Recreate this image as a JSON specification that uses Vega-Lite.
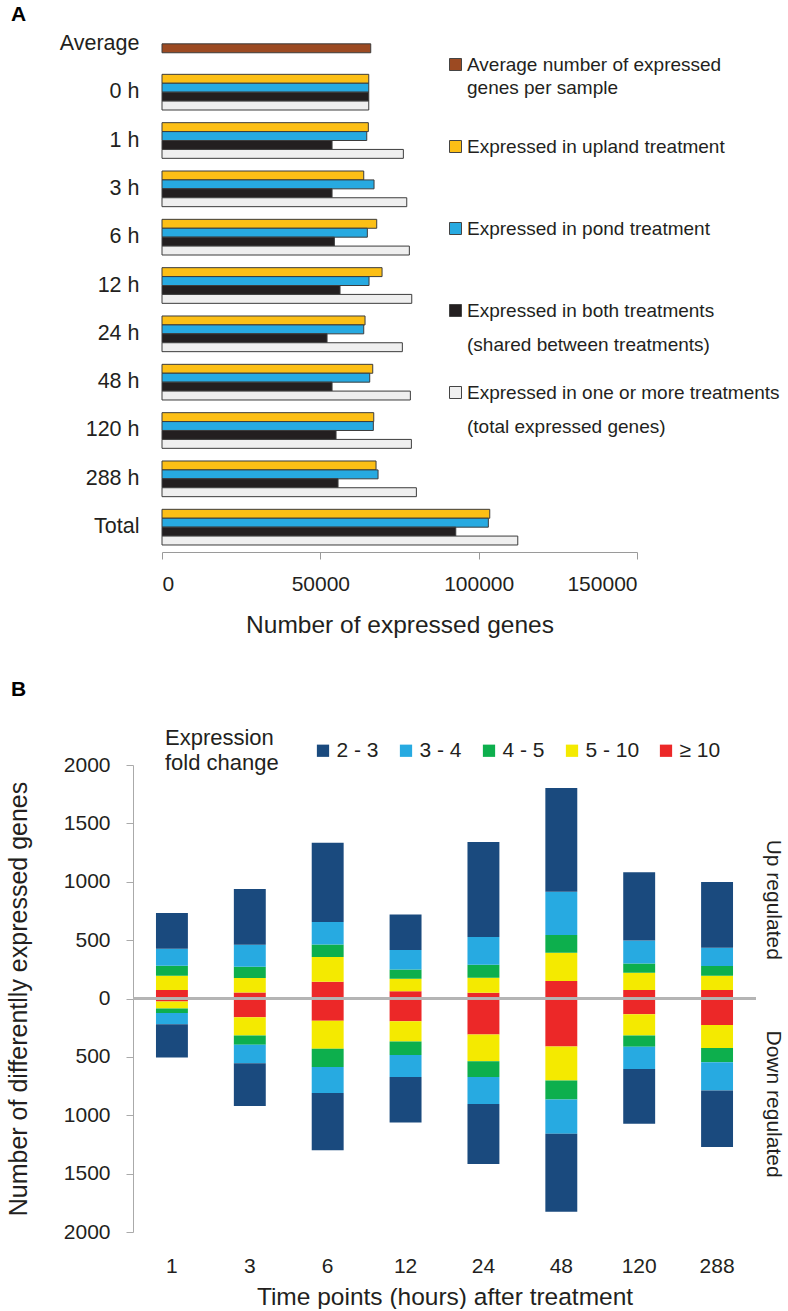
{
  "$schema": "https://vega.github.io/schema/vega-lite/v6.json",
  "padding": {"left": 6, "top": 4, "right": 0, "bottom": 0},
  "spacing": 42,
  "config": {
    "view": {"stroke": null},
    "font": "Liberation Sans",
    "axis": {"labelColor": "#231F20", "titleColor": "#231F20", "titleFontWeight": "normal", "labelFont": "Liberation Sans", "titleFont": "Liberation Sans"},
    "legend": {"labelColor": "#231F20", "titleColor": "#231F20", "labelFont": "Liberation Sans", "titleFont": "Liberation Sans"},
    "title": {"color": "#000000", "font": "Liberation Sans"}
  },
  "resolve": {"scale": {"color": "independent", "x": "independent", "y": "independent"}, "legend": {"color": "independent"}},
  "datasets": {
    "expressed": [
      {"row": "Average", "series": "avg", "value": 65920},
      {"row": "0 h", "series": "upland", "value": 65290},
      {"row": "0 h", "series": "pond", "value": 65290},
      {"row": "0 h", "series": "both", "value": 65290},
      {"row": "0 h", "series": "total", "value": 65290},
      {"row": "1 h", "series": "upland", "value": 65160},
      {"row": "1 h", "series": "pond", "value": 64660},
      {"row": "1 h", "series": "both", "value": 53700},
      {"row": "1 h", "series": "total", "value": 76220},
      {"row": "3 h", "series": "upland", "value": 63710},
      {"row": "3 h", "series": "pond", "value": 66960},
      {"row": "3 h", "series": "both", "value": 53700},
      {"row": "3 h", "series": "total", "value": 77290},
      {"row": "6 h", "series": "upland", "value": 67810},
      {"row": "6 h", "series": "pond", "value": 64850},
      {"row": "6 h", "series": "both", "value": 54430},
      {"row": "6 h", "series": "total", "value": 78110},
      {"row": "12 h", "series": "upland", "value": 69490},
      {"row": "12 h", "series": "pond", "value": 65380},
      {"row": "12 h", "series": "both", "value": 56220},
      {"row": "12 h", "series": "total", "value": 78870},
      {"row": "24 h", "series": "upland", "value": 64120},
      {"row": "24 h", "series": "pond", "value": 63710},
      {"row": "24 h", "series": "both", "value": 52120},
      {"row": "24 h", "series": "total", "value": 75900},
      {"row": "48 h", "series": "upland", "value": 66550},
      {"row": "48 h", "series": "pond", "value": 65600},
      {"row": "48 h", "series": "both", "value": 53700},
      {"row": "48 h", "series": "total", "value": 78430},
      {"row": "120 h", "series": "upland", "value": 66870},
      {"row": "120 h", "series": "pond", "value": 66740},
      {"row": "120 h", "series": "both", "value": 54960},
      {"row": "120 h", "series": "total", "value": 78750},
      {"row": "288 h", "series": "upland", "value": 67590},
      {"row": "288 h", "series": "pond", "value": 68230},
      {"row": "288 h", "series": "both", "value": 55590},
      {"row": "288 h", "series": "total", "value": 80330},
      {"row": "Total", "series": "upland", "value": 103500},
      {"row": "Total", "series": "pond", "value": 103060},
      {"row": "Total", "series": "both", "value": 92770},
      {"row": "Total", "series": "total", "value": 112350}
    ],
    "deg": [
      {"time": "1", "fold": "≥ 10", "value": 72}, {"time": "1", "fold": "5 - 10", "value": 123}, {"time": "1", "fold": "4 - 5", "value": 85}, {"time": "1", "fold": "3 - 4", "value": 146}, {"time": "1", "fold": "2 - 3", "value": 306},
      {"time": "1", "fold": "≥ 10", "value": -26}, {"time": "1", "fold": "5 - 10", "value": -60}, {"time": "1", "fold": "4 - 5", "value": -39}, {"time": "1", "fold": "3 - 4", "value": -95}, {"time": "1", "fold": "2 - 3", "value": -286},
      {"time": "3", "fold": "≥ 10", "value": 51}, {"time": "3", "fold": "5 - 10", "value": 124}, {"time": "3", "fold": "4 - 5", "value": 97}, {"time": "3", "fold": "3 - 4", "value": 189}, {"time": "3", "fold": "2 - 3", "value": 477},
      {"time": "3", "fold": "≥ 10", "value": -160}, {"time": "3", "fold": "5 - 10", "value": -157}, {"time": "3", "fold": "4 - 5", "value": -80}, {"time": "3", "fold": "3 - 4", "value": -157}, {"time": "3", "fold": "2 - 3", "value": -366},
      {"time": "6", "fold": "≥ 10", "value": 143}, {"time": "6", "fold": "5 - 10", "value": 212}, {"time": "6", "fold": "4 - 5", "value": 108}, {"time": "6", "fold": "3 - 4", "value": 192}, {"time": "6", "fold": "2 - 3", "value": 678},
      {"time": "6", "fold": "≥ 10", "value": -191}, {"time": "6", "fold": "5 - 10", "value": -240}, {"time": "6", "fold": "4 - 5", "value": -155}, {"time": "6", "fold": "3 - 4", "value": -223}, {"time": "6", "fold": "2 - 3", "value": -491},
      {"time": "12", "fold": "≥ 10", "value": 63}, {"time": "12", "fold": "5 - 10", "value": 106}, {"time": "12", "fold": "4 - 5", "value": 80}, {"time": "12", "fold": "3 - 4", "value": 166}, {"time": "12", "fold": "2 - 3", "value": 305},
      {"time": "12", "fold": "≥ 10", "value": -194}, {"time": "12", "fold": "5 - 10", "value": -175}, {"time": "12", "fold": "4 - 5", "value": -114}, {"time": "12", "fold": "3 - 4", "value": -189}, {"time": "12", "fold": "2 - 3", "value": -391},
      {"time": "24", "fold": "≥ 10", "value": 49}, {"time": "24", "fold": "5 - 10", "value": 129}, {"time": "24", "fold": "4 - 5", "value": 111}, {"time": "24", "fold": "3 - 4", "value": 238}, {"time": "24", "fold": "2 - 3", "value": 814},
      {"time": "24", "fold": "≥ 10", "value": -309}, {"time": "24", "fold": "5 - 10", "value": -228}, {"time": "24", "fold": "4 - 5", "value": -135}, {"time": "24", "fold": "3 - 4", "value": -231}, {"time": "24", "fold": "2 - 3", "value": -515},
      {"time": "48", "fold": "≥ 10", "value": 149}, {"time": "48", "fold": "5 - 10", "value": 243}, {"time": "48", "fold": "4 - 5", "value": 152}, {"time": "48", "fold": "3 - 4", "value": 371}, {"time": "48", "fold": "2 - 3", "value": 889},
      {"time": "48", "fold": "≥ 10", "value": -412}, {"time": "48", "fold": "5 - 10", "value": -291}, {"time": "48", "fold": "4 - 5", "value": -163}, {"time": "48", "fold": "3 - 4", "value": -292}, {"time": "48", "fold": "2 - 3", "value": -669},
      {"time": "120", "fold": "≥ 10", "value": 72}, {"time": "120", "fold": "5 - 10", "value": 148}, {"time": "120", "fold": "4 - 5", "value": 80}, {"time": "120", "fold": "3 - 4", "value": 197}, {"time": "120", "fold": "2 - 3", "value": 584},
      {"time": "120", "fold": "≥ 10", "value": -134}, {"time": "120", "fold": "5 - 10", "value": -183}, {"time": "120", "fold": "4 - 5", "value": -97}, {"time": "120", "fold": "3 - 4", "value": -189}, {"time": "120", "fold": "2 - 3", "value": -469},
      {"time": "288", "fold": "≥ 10", "value": 72}, {"time": "288", "fold": "5 - 10", "value": 123}, {"time": "288", "fold": "4 - 5", "value": 83}, {"time": "288", "fold": "3 - 4", "value": 157}, {"time": "288", "fold": "2 - 3", "value": 563},
      {"time": "288", "fold": "≥ 10", "value": -228}, {"time": "288", "fold": "5 - 10", "value": -197}, {"time": "288", "fold": "4 - 5", "value": -120}, {"time": "288", "fold": "3 - 4", "value": -244}, {"time": "288", "fold": "2 - 3", "value": -483}
    ]
  },
  "vconcat": [
    {
      "width": 504,
      "height": 533,
      "title": {"text": "A", "anchor": "start", "frame": "group", "dx": -122, "dy": 10, "fontSize": 21, "fontWeight": "bold", "offset": 4},
      "data": {"name": "expressed"},
      "encoding": {
        "y": {
          "field": "row", "type": "nominal",
          "sort": ["Average", "0 h", "1 h", "3 h", "6 h", "12 h", "24 h", "48 h", "120 h", "288 h", "Total"],
          "scale": {"paddingInner": 0.262, "paddingOuter": 0.145},
          "axis": {"title": null, "domain": false, "ticks": false, "labelFontSize": 21.5, "labelPadding": 23, "offset": -29}
        },
        "x": {
          "field": "value", "type": "quantitative",
          "scale": {"domain": [0, 150000], "nice": false, "range": [29, 504]},
          "axis": {"title": "Number of expressed genes", "values": [0, 50000, 100000, 150000], "format": "d", "grid": false, "domainColor": "#9a9a9a", "tickColor": "#9a9a9a", "tickSize": 7, "labelFontSize": 21, "labelPadding": 14, "titleFontSize": 24.5, "titlePadding": 19}
        },
        "color": {
          "field": "series", "type": "nominal",
          "scale": {"domain": ["avg", "upland", "pond", "both", "total"], "range": ["#9C4A22", "#FCBF16", "#27AAE1", "#231F20", "#EFEFEF"]},
          "legend": {
            "orient": "none", "legendX": 313, "legendY": 36, "title": null,
            "symbolType": "square", "symbolSize": 144, "symbolStrokeColor": "#444444", "symbolStrokeWidth": 1,
            "labelFontSize": 19, "labelOffset": 2, "labelLimit": 400, "gridAlign": "all", "rowPadding": 28,
            "labelExpr": "datum.value == 'avg' ? ['Average number of expressed', 'genes per sample'] : datum.value == 'upland' ? 'Expressed in upland treatment' : datum.value == 'pond' ? 'Expressed in pond treatment' : datum.value == 'both' ? ['Expressed in both treatments', '(shared between treatments)'] : ['Expressed in one or more treatments', '(total expressed genes)']",
            "encode": {"labels": {"update": {"lineHeight": {"signal": "datum.value == 'avg' ? 23 : 34"}}}}
          }
        }
      },
      "layer": [
        {
          "transform": [{"filter": "datum.series != 'avg'"}],
          "mark": {"type": "bar", "stroke": "#3c3c3c", "strokeWidth": 1},
          "encoding": {"yOffset": {"field": "series", "type": "nominal", "scale": {"domain": ["upland", "pond", "both", "total"], "paddingInner": 0, "paddingOuter": 0}}}
        },
        {
          "transform": [{"filter": "datum.series == 'avg'"}],
          "mark": {"type": "bar", "stroke": "#3c3c3c", "strokeWidth": 1},
          "encoding": {"yOffset": {"datum": "both", "type": "nominal", "scale": {"domain": ["upland", "pond", "both", "total"], "paddingInner": 0, "paddingOuter": 0}}}
        }
      ]
    },
    {
      "width": 623,
      "height": 467,
      "title": {"text": "B", "anchor": "start", "frame": "group", "dx": -122, "dy": 3, "fontSize": 21, "fontWeight": "bold", "offset": 43},
      "data": {"name": "deg"},
      "layer": [
        {
          "mark": {"type": "bar"},
          "encoding": {
            "x": {
              "field": "time", "type": "nominal",
              "sort": ["1", "3", "6", "12", "24", "48", "120", "288"],
              "scale": {"paddingInner": 0.59, "paddingOuter": 0.295},
              "axis": {"title": "Time points (hours) after treatment", "labelAngle": 0, "domain": false, "ticks": false, "labelFontSize": 21, "labelPadding": 23, "titleFontSize": 24.5, "titlePadding": 9}
            },
            "y": {
              "field": "value", "type": "quantitative", "stack": "zero",
              "scale": {"domain": [-2000, 2000], "nice": false},
              "axis": {"title": "Number of differentlly expressed genes", "values": [-2000, -1500, -1000, -500, 0, 500, 1000, 1500, 2000], "labelExpr": "format(abs(datum.value), 'd')", "grid": false, "domainColor": "#aaaaaa", "tickColor": "#aaaaaa", "tickSize": 7, "labelFontSize": 21, "labelPadding": 16, "titleFontSize": 25, "titlePadding": 32}
            },
            "color": {
              "field": "fold", "type": "nominal",
              "scale": {"domain": ["2 - 3", "3 - 4", "4 - 5", "5 - 10", "≥ 10"], "range": ["#1A4A7E", "#27AAE1", "#0DAF4D", "#F4EA00", "#EC2828"]},
              "legend": {
                "orient": "none", "direction": "horizontal", "legendX": 32, "legendY": -25,
                "title": ["Expression", "fold change"], "titleOrient": "left", "titleFontSize": 22, "titleFontWeight": "normal", "titlePadding": 33.5, "titleLineHeight": 25,
                "symbolType": "square", "symbolSize": 150, "symbolStrokeWidth": 0,
                "labelFontSize": 21, "labelOffset": 3, "columnPadding": 16
              }
            },
            "order": {"field": "fold", "sort": "descending"}
          }
        },
        {
          "mark": {"type": "rule", "color": "#b5b5b5", "strokeWidth": 1.5},
          "encoding": {
            "y": {"datum": 0, "type": "quantitative", "axis": {"orient": "right", "values": [850, -900], "labelExpr": "datum.value > 0 ? 'Up regulated' : 'Down regulated'", "labelAngle": 90, "domain": false, "ticks": false, "grid": false, "title": null, "labelFontSize": 21, "labelPadding": 6}}
          }
        }
      ],
      "resolve": {"axis": {"y": "independent"}}
    }
  ]
}
